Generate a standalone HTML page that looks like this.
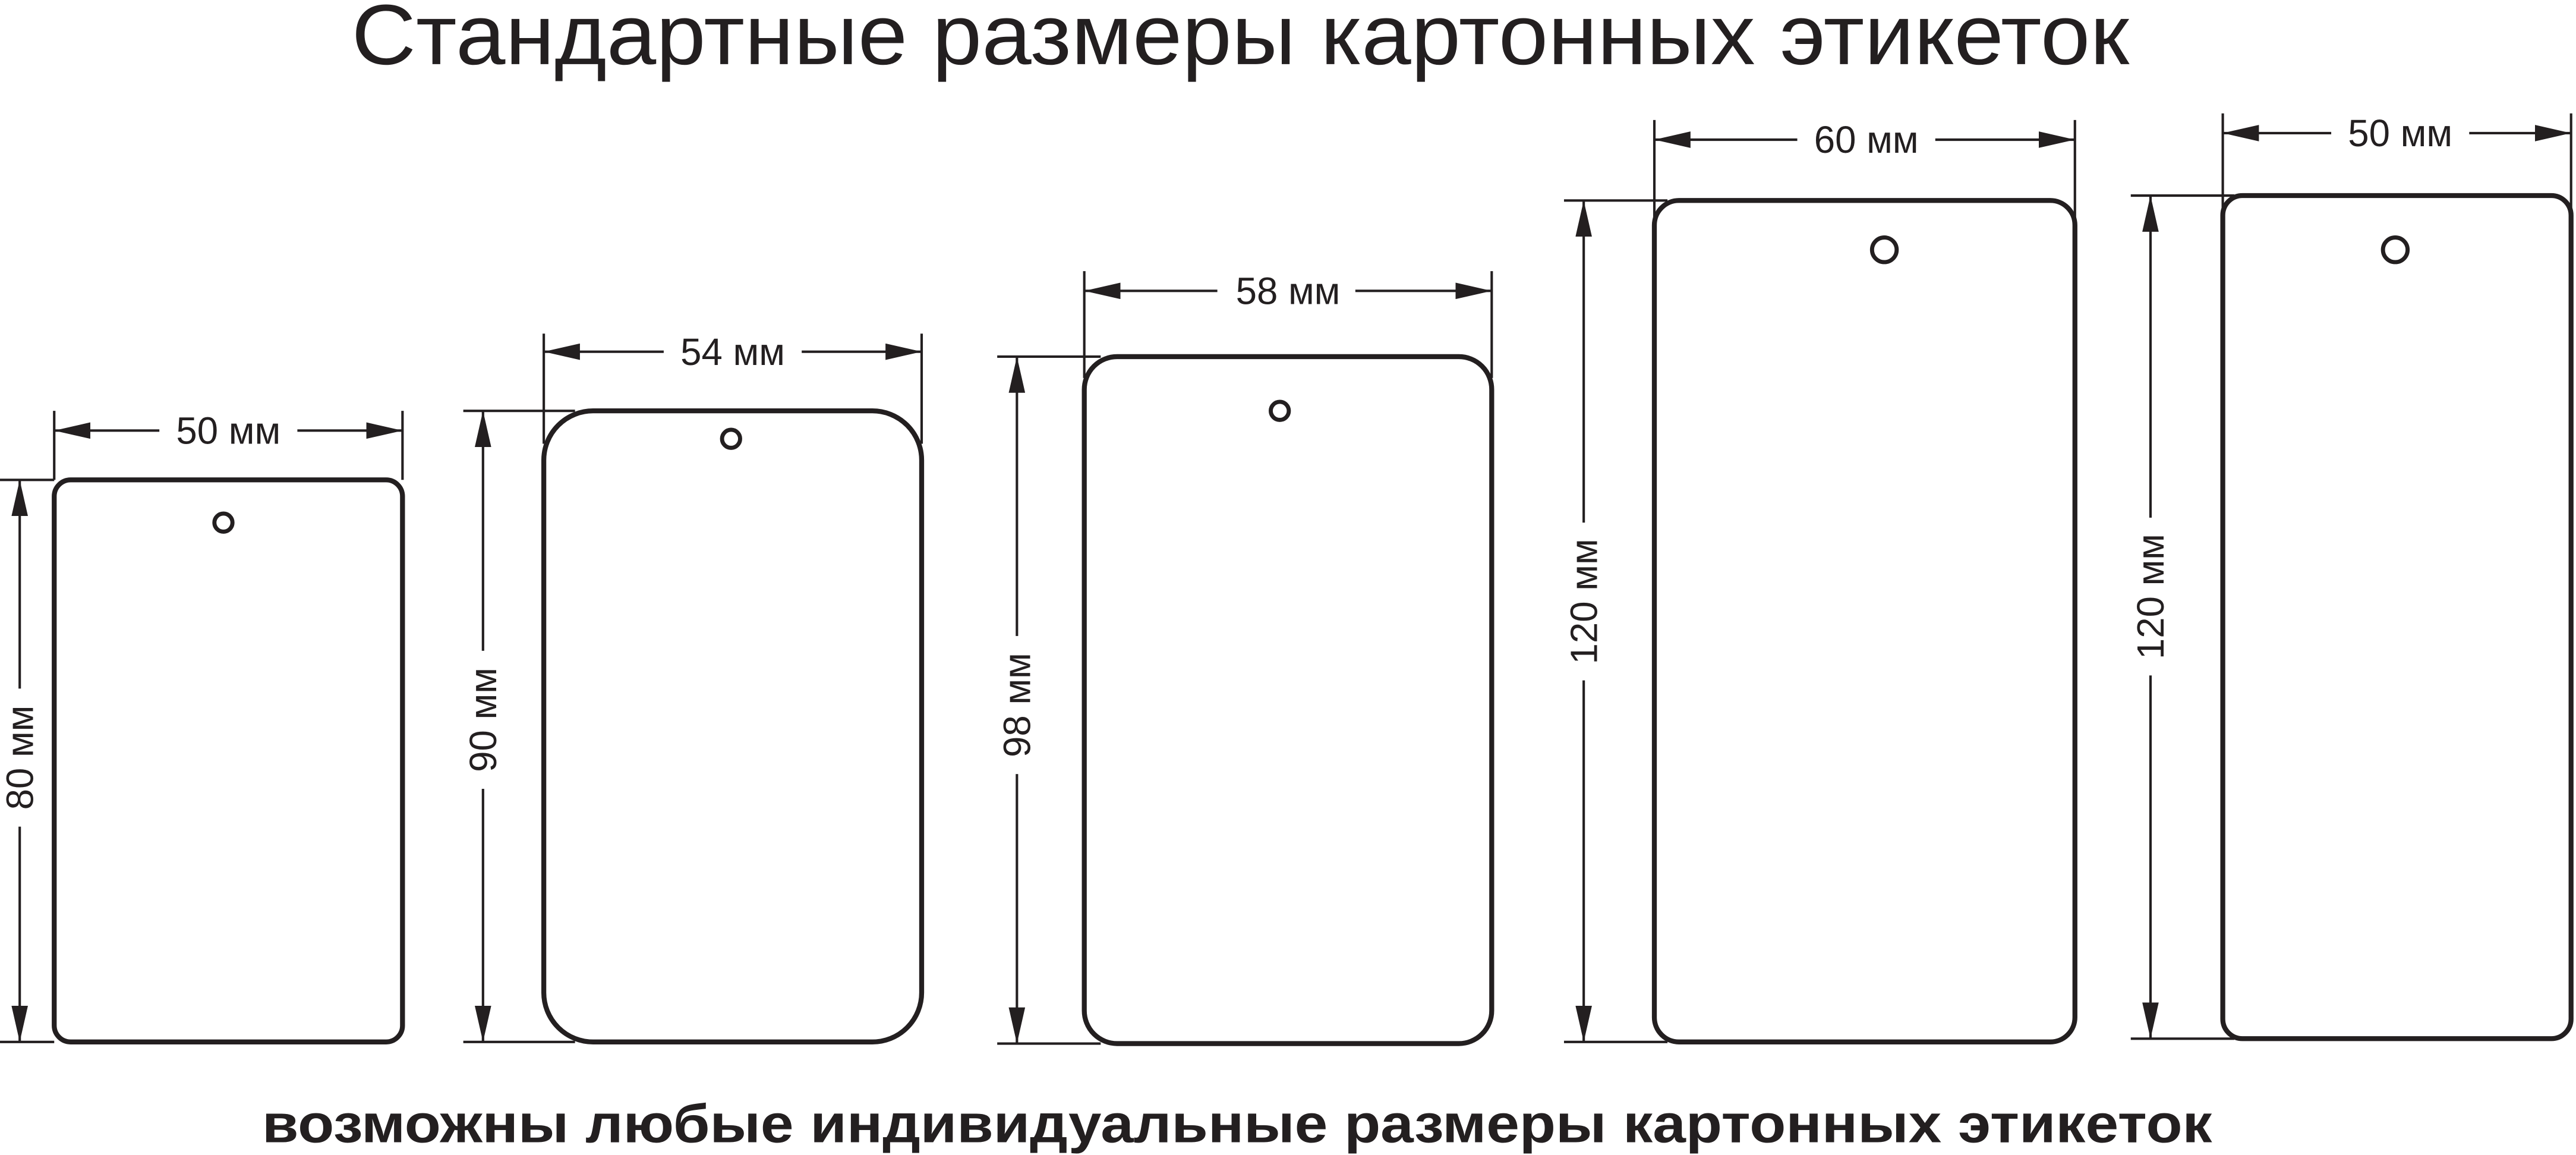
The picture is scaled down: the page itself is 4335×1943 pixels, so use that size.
<!DOCTYPE html>
<html><head><meta charset="utf-8"><style>html,body{margin:0;padding:0;background:#fff}svg{display:block}</style></head>
<body>
<svg width="4335" height="1943" viewBox="0 0 1568 702.8" xmlns="http://www.w3.org/2000/svg" font-family="'Liberation Sans', sans-serif" fill="#231f20">
<defs>
<marker id="a" viewBox="0 0 22 10" refX="22" refY="5" markerWidth="22" markerHeight="10" markerUnits="userSpaceOnUse" orient="auto-start-reverse"><path d="M22,5 L0,0 L0,10 Z" fill="#231f20"/></marker>
</defs>
<text x="755" y="39" font-size="52" text-anchor="middle" textLength="1082" lengthAdjust="spacingAndGlyphs">Стандартные размеры картонных этикеток</text>
<text x="753" y="695" font-size="33" font-weight="bold" text-anchor="middle" textLength="1187" lengthAdjust="spacingAndGlyphs">возможны любые индивидуальные размеры картонных этикеток</text>

<g stroke="#231f20" fill="none">
<!-- card 1 -->
<rect x="33" y="292" width="212" height="342" rx="10" stroke-width="3"/>
<circle cx="136" cy="318" r="5.5" stroke-width="2.5"/>
<line x1="33" y1="250" x2="33" y2="292" stroke-width="1.5"/>
<line x1="245" y1="250" x2="245" y2="292" stroke-width="1.5"/>
<line x1="33" y1="262" x2="245" y2="262" stroke-width="1.5" marker-start="url(#a)" marker-end="url(#a)"/>
<line x1="0" y1="292" x2="33" y2="292" stroke-width="1.5"/>
<line x1="0" y1="634" x2="33" y2="634" stroke-width="1.5"/>
<line x1="12" y1="292" x2="12" y2="634" stroke-width="1.5" marker-start="url(#a)" marker-end="url(#a)"/>
<!-- card 2 -->
<rect x="331" y="250" width="230" height="384" rx="30" stroke-width="3"/>
<circle cx="445" cy="267" r="5.5" stroke-width="2.5"/>
<line x1="331" y1="203" x2="331" y2="270" stroke-width="1.5"/>
<line x1="561" y1="203" x2="561" y2="270" stroke-width="1.5"/>
<line x1="331" y1="214" x2="561" y2="214" stroke-width="1.5" marker-start="url(#a)" marker-end="url(#a)"/>
<line x1="282" y1="250" x2="350" y2="250" stroke-width="1.5"/>
<line x1="282" y1="634" x2="350" y2="634" stroke-width="1.5"/>
<line x1="294" y1="250" x2="294" y2="634" stroke-width="1.5" marker-start="url(#a)" marker-end="url(#a)"/>
<!-- card 3 -->
<rect x="660" y="217" width="248" height="418" rx="20" stroke-width="3"/>
<circle cx="779" cy="250" r="5.5" stroke-width="2.5"/>
<line x1="660" y1="165" x2="660" y2="230" stroke-width="1.5"/>
<line x1="908" y1="165" x2="908" y2="230" stroke-width="1.5"/>
<line x1="660" y1="177" x2="908" y2="177" stroke-width="1.5" marker-start="url(#a)" marker-end="url(#a)"/>
<line x1="607" y1="217" x2="670" y2="217" stroke-width="1.5"/>
<line x1="607" y1="635" x2="670" y2="635" stroke-width="1.5"/>
<line x1="619" y1="217" x2="619" y2="635" stroke-width="1.5" marker-start="url(#a)" marker-end="url(#a)"/>
<!-- card 4 -->
<rect x="1007" y="122" width="256" height="512" rx="15" stroke-width="3"/>
<circle cx="1147" cy="152" r="7.5" stroke-width="2.5"/>
<line x1="1007" y1="73" x2="1007" y2="135" stroke-width="1.5"/>
<line x1="1263" y1="73" x2="1263" y2="135" stroke-width="1.5"/>
<line x1="1007" y1="85" x2="1263" y2="85" stroke-width="1.5" marker-start="url(#a)" marker-end="url(#a)"/>
<line x1="952" y1="122" x2="1015" y2="122" stroke-width="1.5"/>
<line x1="952" y1="634" x2="1015" y2="634" stroke-width="1.5"/>
<line x1="964" y1="122" x2="964" y2="634" stroke-width="1.5" marker-start="url(#a)" marker-end="url(#a)"/>
<!-- card 5 -->
<rect x="1353" y="119" width="212" height="513" rx="12" stroke-width="3"/>
<circle cx="1458" cy="152" r="7.5" stroke-width="2.5"/>
<line x1="1353" y1="69" x2="1353" y2="130" stroke-width="1.5"/>
<line x1="1565" y1="69" x2="1565" y2="130" stroke-width="1.5"/>
<line x1="1353" y1="81" x2="1565" y2="81" stroke-width="1.5" marker-start="url(#a)" marker-end="url(#a)"/>
<line x1="1297" y1="119" x2="1360" y2="119" stroke-width="1.5"/>
<line x1="1297" y1="632" x2="1360" y2="632" stroke-width="1.5"/>
<line x1="1309" y1="119" x2="1309" y2="632" stroke-width="1.5" marker-start="url(#a)" marker-end="url(#a)"/>
</g>

<g fill="#fff">
<rect x="97" y="250" width="84" height="24"/>
<rect x="404" y="202" width="84" height="24"/>
<rect x="741" y="165" width="84" height="24"/>
<rect x="1094" y="73" width="84" height="24"/>
<rect x="1419" y="69" width="84" height="24"/>
<rect x="0" y="419" width="24" height="84"/>
<rect x="282" y="396" width="24" height="84"/>
<rect x="607" y="387" width="24" height="84"/>
<rect x="952" y="318" width="24" height="96"/>
<rect x="1297" y="315" width="24" height="96"/>
</g>
<g font-size="23" text-anchor="middle">
<text x="139" y="270">50 мм</text>
<text x="446" y="222">54 мм</text>
<text x="784" y="185">58 мм</text>
<text x="1136" y="93">60 мм</text>
<text x="1461" y="89">50 мм</text>
<text transform="translate(20,461) rotate(-90)">80 мм</text>
<text transform="translate(302,438) rotate(-90)">90 мм</text>
<text transform="translate(627,429) rotate(-90)">98 мм</text>
<text transform="translate(972,366) rotate(-90)">120 мм</text>
<text transform="translate(1317,363) rotate(-90)">120 мм</text>
</g>
</svg>
</body></html>
